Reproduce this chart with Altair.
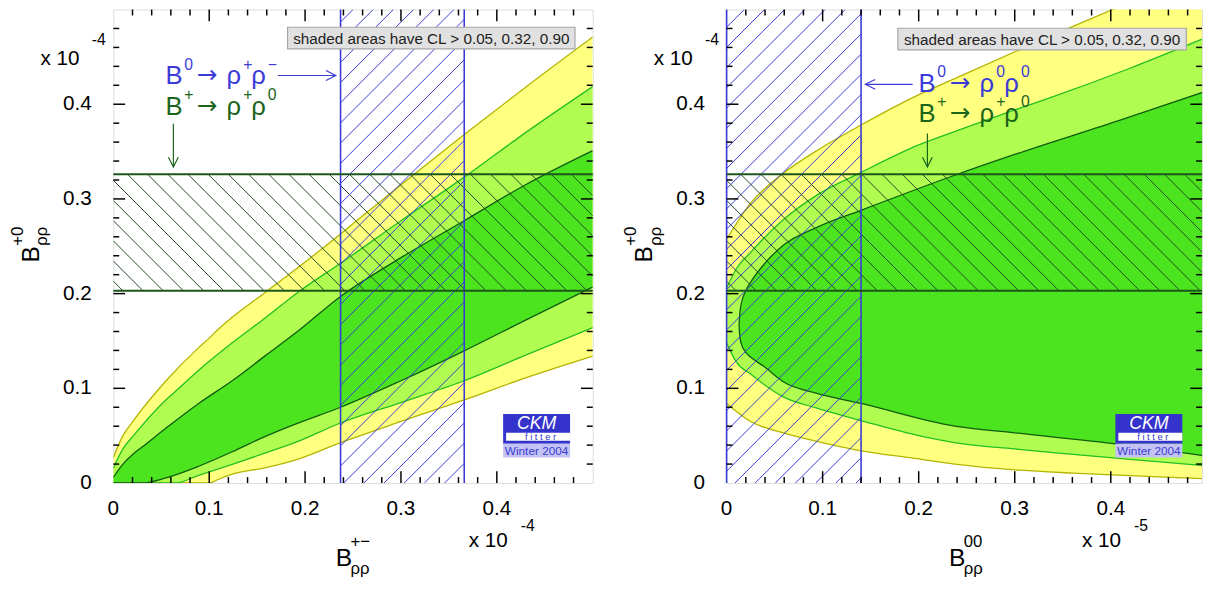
import math
import altair as alt
import pandas as pd

FONT = "Liberation Sans"
BLUE = "#3a3ad6"
BLUE_TXT = "#3b3bd8"
GREEN_TXT = "#1b641b"
GREEN_EDGE = "#1d561d"
GREEN_HATCH = "#234a23"
YEL_FILL, YEL_EDGE = "#ffff80", "#b4b400"
LG_FILL, LG_EDGE = "#b0fc50", "#22c022"
DG_FILL, DG_EDGE = "#4be41e", "#0f5c0f"

# ---------------- data ----------------
AXIS_LABELS = [0, 0.1, 0.2, 0.3, 0.4]
MAJOR_TICKS = [0.1, 0.2, 0.3, 0.4]
MINOR_TICKS = [0.02, 0.04, 0.06, 0.08, 0.12, 0.14, 0.16, 0.18, 0.22, 0.24,
               0.26, 0.28, 0.32, 0.34, 0.36, 0.38, 0.42, 0.44, 0.46, 0.48]

# left panel: B+0 vs B+-  (CL > 0.05 / 0.32 / 0.90 regions)
L_YEL_X = [0, 0.01, 0.021, 0.055, 0.089, 0.1, 0.11, 0.124, 0.158, 0.192, 0.237, 0.3, 0.366, 0.43, 0.5]
L_YEL_LO = [0, 0, 0, 0, 0, 0, 0.004, 0.0093, 0.016, 0.025, 0.0426, 0.065, 0.0877, 0.111, 0.134]
L_YEL_HI = [0.027, 0.05, 0.066, 0.108, 0.143, 0.153, 0.163, 0.175, 0.201, 0.227, 0.263, 0.315, 0.368, 0.418, 0.471]

L_LG_X = [0, 0.01, 0.021, 0.055, 0.065, 0.089, 0.124, 0.158, 0.192, 0.237, 0.3, 0.366, 0.43, 0.5]
L_LG_LO = [0, 0, 0, 0, 0, 0.008, 0.0197, 0.0315, 0.0437, 0.0634, 0.085, 0.108, 0.135, 0.164]
L_LG_HI = [0.016, 0.036, 0.05, 0.088, 0.097, 0.119, 0.148, 0.174, 0.201, 0.232, 0.277, 0.323, 0.37, 0.4186]

L_DG_X = [0, 0.01, 0.021, 0.03, 0.055, 0.089, 0.124, 0.158, 0.192, 0.237, 0.3, 0.366, 0.43, 0.5]
L_DG_LO = [0, 0, 0, 0, 0.0055, 0.0177, 0.033, 0.049, 0.063, 0.08, 0.108, 0.1396, 0.172, 0.207]
L_DG_HI = [0.006, 0.02, 0.031, 0.038, 0.058, 0.084, 0.108, 0.134, 0.160, 0.197, 0.238, 0.277, 0.315, 0.351]

# right panel: B+0 vs B00
R_YEL_X = [0, 0.025, 0.059, 0.094, 0.14, 0.196, 0.2375, 0.306, 0.36, 0.402, 0.45, 0.497]
R_YEL_LO = [0.084, 0.065, 0.053, 0.044, 0.034, 0.026, 0.020, 0.0135, 0.0105, 0.0085, 0.0065, 0.0045]
R_YEL_HI = [0.2575, 0.2955, 0.327, 0.351, 0.378, 0.408, 0.427, 0.458, 0.482, 0.5, 0.52, 0.54]

R_LG_X = [0, 0.01, 0.025, 0.059, 0.094, 0.14, 0.2, 0.248, 0.3, 0.34, 0.42, 0.497]
R_LG_LO = [0.148, 0.128, 0.115, 0.091, 0.079, 0.066, 0.05, 0.041, 0.036, 0.032, 0.025, 0.0184]
R_LG_HI = [0.206, 0.226, 0.2436, 0.278, 0.304, 0.328, 0.357, 0.375, 0.394, 0.408, 0.438, 0.4695]

R_DG_X = [0.013, 0.0135, 0.015, 0.02, 0.025, 0.039, 0.059, 0.094, 0.14, 0.2375, 0.3, 0.409, 0.497]
R_DG_LO = [0.167, 0.158, 0.148, 0.138, 0.133, 0.123, 0.107, 0.0946, 0.084, 0.060, 0.053, 0.041, 0.0288]
R_DG_HI = [0.167, 0.176, 0.188, 0.203, 0.212, 0.231, 0.251, 0.27, 0.288, 0.325, 0.347, 0.383, 0.413]

# measurement bands
L_BLUE_BAND = [0.237, 0.366]   # B0 -> rho+ rho-
R_BLUE_BAND = [0.0, 0.14]      # B0 -> rho0 rho0
GREEN_BAND = [0.203, 0.326]    # B+ -> rho+ rho0

NOTE = "shaded areas have CL > 0.05, 0.32, 0.90"

# ---------------- helpers ----------------
ONE = pd.DataFrame({"a": [0]})
H = 481
YDOM = [0, 0.5]


def txt(s, x, y, size, color="black", align="left", angle=None, style=None, font=FONT):
    props = dict(text=s, fontSize=size, font=font, color=color, align=align, baseline="alphabetic")
    if angle is not None:
        props["angle"] = angle
    if style:
        props["fontStyle"] = style
    return alt.Chart(ONE).mark_text(**props).encode(x=alt.value(x), y=alt.value(y))


def rect(x1, x2, y1, y2, fill, stroke=None, sw=0):
    props = dict(fill=fill)
    if stroke:
        props.update(stroke=stroke, strokeWidth=sw)
    return alt.Chart(ONE).mark_rect(**props).encode(
        x=alt.value(x1), x2=alt.value(x2), y=alt.value(y1), y2=alt.value(y2))


def seg(x1, y1, x2, y2, color, sw=1.2):
    return alt.Chart(ONE).mark_rule(color=color, strokeWidth=sw).encode(
        x=alt.value(x1), x2=alt.value(x2), y=alt.value(y1), y2=alt.value(y2))


def head(x, y, shape, color):
    return alt.Chart(ONE).mark_point(shape=shape, filled=False, stroke=color, strokeWidth=1.2,
                                     size=400, opacity=1).encode(x=alt.value(x), y=alt.value(y))


def hatch(x0, x1, y0, y1, sign, step, sx, sy, phase=0.0):
    u0, u1, v0, v1 = x0 * sx, x1 * sx, y0 * sy, y1 * sy
    rows = []
    if sign > 0:  # '/'  v = u + c
        cmin, cmax = v0 - u1, v1 - u0
        c = phase + math.ceil((cmin - phase) / step) * step
        while c < cmax:
            ua, ub = max(u0, v0 - c), min(u1, v1 - c)
            if ub > ua:
                rows.append((ua / sx, (ua + c) / sy, ub / sx, (ub + c) / sy))
            c += step
    else:  # '\'  v = c - u
        cmin, cmax = u0 + v0, u1 + v1
        c = phase + math.ceil((cmin - phase) / step) * step
        while c < cmax:
            ua, ub = max(u0, c - v1), min(u1, c - v0)
            if ub > ua:
                rows.append((ua / sx, (c - ua) / sy, ub / sx, (c - ub) / sy))
            c += step
    return pd.DataFrame(rows, columns=["x", "y", "x2", "y2"])


def formula(segs, bx, base, sup_base, color):
    out = []
    for s, dx, kind in segs:
        if kind == "sup":
            out.append(txt(s, bx + dx, sup_base, 16, color))
        elif kind == "arrow":
            out.append(txt(s, bx + dx, base - 1, 25, color, font="DejaVu Sans"))
        else:
            out.append(txt(s, bx + dx, base, 26, color))
    return out


def panel(W, xmax, contours, blue_band, exp_txt, xsup, blue_segs, green_segs, blue_pos, green_pos,
          blue_arrow, green_arrow, note_box, logo_x):
    sx_ = alt.Scale(domain=[0, xmax], nice=False, zero=False)
    sy_ = alt.Scale(domain=YDOM, nice=False, zero=False)
    px_x = W / xmax
    px_y = H / (YDOM[1] - YDOM[0])
    layers = []
    # filled contours
    for xs, lo, hi, fill, edge in contours:
        df = pd.DataFrame({"x": xs, "lo": lo, "hi": hi})
        layers.append(alt.Chart(df).mark_area(color=fill, interpolate="monotone", clip=True, opacity=1).encode(
            x=alt.X("x:Q", scale=sx_, axis=None),
            y=alt.Y("lo:Q", scale=sy_, axis=None),
            y2="hi:Q"))
    for xs, lo, hi, fill, edge in contours:
        df = pd.DataFrame({"x": xs, "lo": lo, "hi": hi})
        for f in ("lo", "hi"):
            layers.append(alt.Chart(df).mark_line(color=edge, strokeWidth=1.3, interpolate="monotone",
                                                  clip=True).encode(
                x=alt.X("x:Q", scale=sx_, axis=None), y=alt.Y(f + ":Q", scale=sy_, axis=None)))
    # hatched bands
    bh = hatch(blue_band[0], blue_band[1], YDOM[0], YDOM[1], +1, 20.5, px_x, px_y, phase=12)
    gh = hatch(0, xmax, GREEN_BAND[0], GREEN_BAND[1], -1, 20.5, px_x, px_y, phase=0)
    for d, col in ((bh, BLUE), (gh, GREEN_HATCH)):
        layers.append(alt.Chart(d).mark_rule(color=col, strokeWidth=1, clip=True).encode(
            x=alt.X("x:Q", scale=sx_, axis=None), y=alt.Y("y:Q", scale=sy_, axis=None),
            x2="x2:Q", y2="y2:Q"))
    layers.append(alt.Chart(pd.DataFrame({"v": blue_band})).mark_rule(color=BLUE, strokeWidth=1.6).encode(
        x=alt.X("v:Q", scale=sx_, axis=None), y=alt.value(0), y2=alt.value(H)))
    layers.append(alt.Chart(pd.DataFrame({"v": GREEN_BAND})).mark_rule(color=GREEN_EDGE, strokeWidth=2).encode(
        y=alt.Y("v:Q", scale=sy_, axis=None), x=alt.value(0), x2=alt.value(W)))
    # ticks on all four sides
    for vals, ln in ((MAJOR_TICKS, 12), (MINOR_TICKS, 6)):
        tdf = pd.DataFrame({"v": [v for v in vals if v < xmax]})
        layers.append(alt.Chart(tdf).mark_rule(color="black", strokeWidth=1.5).encode(
            x=alt.X("v:Q", scale=sx_, axis=None), y=alt.value(H), y2=alt.value(H - ln)))
        layers.append(alt.Chart(tdf).mark_rule(color="black", strokeWidth=1.5).encode(
            x=alt.X("v:Q", scale=sx_, axis=None), y=alt.value(0), y2=alt.value(ln)))
        ydf = pd.DataFrame({"v": vals})
        layers.append(alt.Chart(ydf).mark_rule(color="black", strokeWidth=1.5).encode(
            y=alt.Y("v:Q", scale=sy_, axis=None), x=alt.value(0), x2=alt.value(ln)))
        layers.append(alt.Chart(ydf).mark_rule(color="black", strokeWidth=1.5).encode(
            y=alt.Y("v:Q", scale=sy_, axis=None), x=alt.value(W), x2=alt.value(W - ln)))
    # tick labels
    lab = pd.DataFrame({"v": AXIS_LABELS})
    layers.append(alt.Chart(lab).mark_text(font=FONT, fontSize=21, color="black", align="center",
                                           baseline="alphabetic").encode(
        x=alt.X("v:Q", scale=sx_, axis=None), y=alt.value(H + 32), text=alt.Text("v:Q", format="~g")))
    layers.append(alt.Chart(lab).mark_text(font=FONT, fontSize=21, color="black", align="right",
                                           baseline="middle").encode(
        y=alt.Y("v:Q", scale=sy_, axis=None), x=alt.value(-22), text=alt.Text("v:Q", format="~g")))
    # note box
    bx1, bx2, by1, by2 = note_box
    layers.append(rect(bx1, bx2, by1, by2, "#e1e1e1", "#a6a6a6", 1.2))
    layers.append(alt.Chart(ONE).mark_text(text=NOTE, font=FONT, fontSize=15.5, color="#222222",
                                           align="center", baseline="alphabetic").encode(
        x=alt.value((bx1 + bx2) / 2), y=alt.value(by2 - 5)))
    # formulas
    layers += formula(blue_segs, blue_pos[0], blue_pos[1], blue_pos[1] - 15, BLUE_TXT)
    layers += formula(green_segs, green_pos[0], green_pos[1], green_pos[1] - 15, GREEN_TXT)
    (ax1, ay1, ax2, ay2, ashape) = blue_arrow
    layers.append(seg(ax1, ay1, ax2, ay2, BLUE_TXT))
    layers.append(head(ax2, ay2, ashape, BLUE_TXT))
    (gx1, gy1, gx2, gy2, gshape) = green_arrow
    layers.append(seg(gx1, gy1, gx2, gy2, GREEN_TXT))
    layers.append(head(gx2, gy2, gshape, GREEN_TXT))
    # CKMfitter logo
    lx = logo_x
    layers.append(rect(lx, lx + 68, 411, 441, "#3434cc"))
    layers.append(rect(lx + 3, lx + 68, 430, 438, "#ffffff"))
    layers.append(rect(lx, lx + 68, 441, 455, "#c4c4f4"))
    layers.append(txt("CKM", lx + 34, 426, 18, "white", align="center", style="italic"))
    layers.append(txt("f i t t e r", lx + 38, 437.5, 9.5, "#3434cc", align="center"))
    layers.append(txt("Winter 2004", lx + 34, 453, 12, "#3c3cd0", align="center"))
    # exponents
    layers.append(txt("x 10", -74, 56, 21))
    layers.append(txt("-4", -22, 36, 16))
    layers.append(txt("x 10", 361, H + 65, 21))
    layers.append(txt(exp_txt, 414, H + 49, 16))
    # axis titles
    layers.append(txt("B", 226, H + 84, 25))
    layers.append(txt(xsup, 241, H + 65, 17))
    layers.append(txt("ρρ", 241, H + 92, 17))
    layers.append(txt("B", -76, 257, 25, angle=270))
    layers.append(txt("+0", -92, 240, 17, angle=270))
    layers.append(txt("ρρ", -67, 240, 17, angle=270))
    return alt.layer(*layers).properties(width=W, height=H)


SEG_B0_PM = [("B", 0, "m"), ("0", 19, "sup"), ("→", 32, "arrow"), ("ρ", 62, "m"), ("+", 79, "sup"),
             ("ρ", 87, "m"), ("−", 104, "sup")]
SEG_BP_P0 = [("B", 0, "m"), ("+", 19, "sup"), ("→", 32, "arrow"), ("ρ", 62, "m"), ("+", 79, "sup"),
             ("ρ", 87, "m"), ("0", 104, "sup")]
SEG_B0_00 = [("B", 0, "m"), ("0", 19, "sup"), ("→", 32, "arrow"), ("ρ", 62, "m"), ("0", 79, "sup"),
             ("ρ", 87, "m"), ("0", 104, "sup")]

ARROW_R = "M-1,-0.5L0,0L-1,0.5"
ARROW_L = "M1,-0.5L0,0L1,0.5"
ARROW_D = "M-0.5,-1L0,0L0.5,-1"

left = panel(
    487, 0.5,
    [(L_YEL_X, L_YEL_LO, L_YEL_HI, YEL_FILL, YEL_EDGE),
     (L_LG_X, L_LG_LO, L_LG_HI, LG_FILL, LG_EDGE),
     (L_DG_X, L_DG_LO, L_DG_HI, DG_FILL, DG_EDGE)],
    L_BLUE_BAND, "-4", "+−", SEG_B0_PM, SEG_BP_P0, (53, 76), (53, 107),
    (167, 67, 226, 67, ARROW_R), (61, 116, 61, 160, ARROW_D),
    (177, 469, 18, 40), 396)

right = panel(
    483, 0.495,
    [(R_YEL_X, R_YEL_LO, R_YEL_HI, YEL_FILL, YEL_EDGE),
     (R_LG_X, R_LG_LO, R_LG_HI, LG_FILL, LG_EDGE),
     (R_DG_X, R_DG_LO, R_DG_HI, DG_FILL, DG_EDGE)],
    R_BLUE_BAND, "-5", "00", SEG_B0_00, SEG_BP_P0, (195, 84), (195, 114),
    (189, 76, 141, 76, ARROW_L), (204, 126, 204, 160, ARROW_D),
    (174, 467, 19, 41), 395)

chart = alt.hconcat(left, right, spacing=27).properties(
    padding={"left": 0, "top": -5, "right": 0, "bottom": 0}
).configure_view(stroke="black", strokeWidth=2).configure(background="white")

chart.save("out.html", embed_options={"renderer": "svg", "actions": False})
